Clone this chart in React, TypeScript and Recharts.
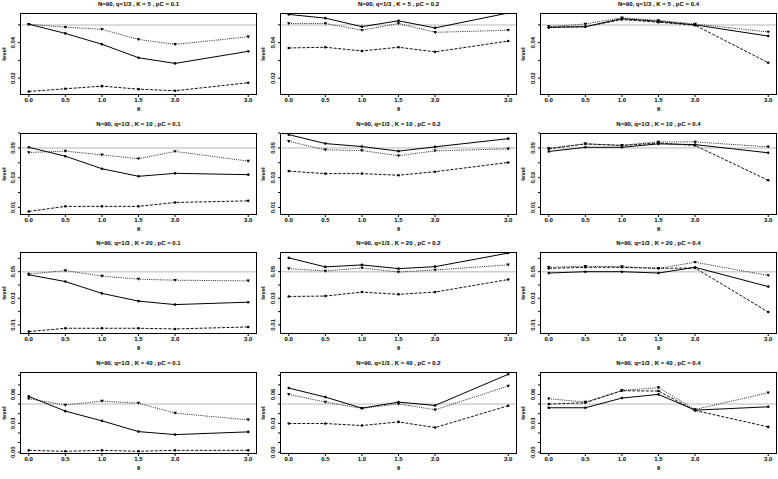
import { LineChart, Line, XAxis, YAxis, ReferenceLine } from "recharts"

const FONT = '"Liberation Sans", Arial, Helvetica, sans-serif'

// theta values on the x axis
const theta = [0, 0.5, 1, 1.5, 2, 3]
const kValues = [5, 10, 20, 40]
const pcValues = [0.1, 0.2, 0.4]

// level per panel: [solid, dotted, dashed]
const k5p1 = [
  [0.0504, 0.0452, 0.0391, 0.0315, 0.0283, 0.0351],
  [0.0504, 0.0487, 0.0475, 0.0418, 0.039, 0.0433],
  [0.0125, 0.014, 0.0155, 0.0138, 0.0129, 0.0174],
]
const k5p2 = [
  [0.0559, 0.0538, 0.049, 0.0523, 0.0483, 0.0567],
  [0.0508, 0.0508, 0.047, 0.0508, 0.0458, 0.047],
  [0.037, 0.0374, 0.0353, 0.0374, 0.0348, 0.0409],
]
const k5p4 = [
  [0.0487, 0.049, 0.0535, 0.052, 0.05, 0.0437],
  [0.049, 0.0505, 0.054, 0.0525, 0.0505, 0.046],
  [0.0485, 0.049, 0.053, 0.0515, 0.0498, 0.0287],
]
const k10p1 = [
  [0.0504, 0.0444, 0.036, 0.0309, 0.0329, 0.032],
  [0.0469, 0.0478, 0.0453, 0.0427, 0.0476, 0.0411],
  [0.0073, 0.0107, 0.0107, 0.0107, 0.0133, 0.0144],
]
const k10p2 = [
  [0.0589, 0.0529, 0.0509, 0.0478, 0.0507, 0.0562],
  [0.0544, 0.0487, 0.0482, 0.0447, 0.048, 0.0493],
  [0.0344, 0.0327, 0.0327, 0.0316, 0.034, 0.0402],
]
const k10p4 = [
  [0.0476, 0.0504, 0.0504, 0.0527, 0.0522, 0.0467],
  [0.0498, 0.0527, 0.0518, 0.054, 0.054, 0.0507],
  [0.0493, 0.0527, 0.0516, 0.0533, 0.0516, 0.0282],
]
const k20p1 = [
  [0.0477, 0.0426, 0.0337, 0.0279, 0.0253, 0.0271],
  [0.0482, 0.0508, 0.0467, 0.0444, 0.0436, 0.0431],
  [0.005, 0.0075, 0.0075, 0.0075, 0.007, 0.0085],
]
const k20p2 = [
  [0.0604, 0.0536, 0.0551, 0.0523, 0.0538, 0.064],
  [0.0523, 0.0505, 0.0528, 0.0497, 0.0513, 0.0551],
  [0.0314, 0.0317, 0.0347, 0.033, 0.0347, 0.0441],
]
const k20p4 = [
  [0.049, 0.05, 0.05, 0.049, 0.0533, 0.0388],
  [0.0533, 0.0541, 0.0538, 0.0525, 0.0571, 0.0472],
  [0.0525, 0.0533, 0.0533, 0.0525, 0.0528, 0.0197],
]
const k40p1 = [
  [0.058, 0.0427, 0.0326, 0.0214, 0.0183, 0.0211],
  [0.0556, 0.049, 0.0531, 0.051, 0.0406, 0.0336],
  [0.0019, 0.0009, 0.0019, 0.0009, 0.0019, 0.0019],
]
const k40p2 = [
  [0.0667, 0.0573, 0.0458, 0.0521, 0.0486, 0.081],
  [0.0601, 0.0521, 0.0455, 0.0503, 0.0441, 0.0688],
  [0.0298, 0.0298, 0.0277, 0.0315, 0.0256, 0.0483],
]
const k40p4 = [
  [0.0462, 0.0462, 0.0563, 0.0601, 0.0437, 0.0472],
  [0.0556, 0.0521, 0.0643, 0.0671, 0.0444, 0.0618],
  [0.05, 0.0514, 0.0639, 0.0636, 0.0434, 0.0263],
]

const panels = [
  [k5p1, k5p2, k5p4],
  [k10p1, k10p2, k10p4],
  [k20p1, k20p2, k20p4],
  [k40p1, k40p2, k40p4],
]

// y axis per row
const yDomains = [
  [0.0105, 0.0567],
  [0.0049, 0.06],
  [0.0032, 0.0648],
  [-0.0019, 0.0834],
]
const yTicks = [
  [0.02, 0.03, 0.04, 0.05],
  [0.01, 0.02, 0.03, 0.04, 0.05, 0.06],
  [0.01, 0.02, 0.03, 0.04, 0.05, 0.06],
  [0, 0.01, 0.02, 0.03, 0.04, 0.05, 0.06, 0.07, 0.08],
]
const yLabeled = [
  [0.02, 0.04],
  [0.01, 0.03, 0.05],
  [0.01, 0.03, 0.05],
  [0, 0.03, 0.06],
]

const colX = [0, 259, 519]
const rowY = [0, 120, 239, 359]
const boxLeft = [20, 21, 21]
const BOX_W = 237
const BOX_TOP = 13
const BOX_H = 82
const PANEL_W = 260
const PANEL_H = 120

function YTick(props: any) {
  const { y, payload, labeled, boxX } = props
  const v = payload?.value
  if (v == null || !labeled.some((l: number) => Math.abs(l - v) < 1e-9)) return <g />
  return (
    <text
      transform={`translate(${boxX - 5},${y}) rotate(-90)`}
      textAnchor="middle"
      fontSize={6}
      fontWeight="bold"
      fontFamily={FONT}
      fill="#000"
    >
      {v.toFixed(2)}
    </text>
  )
}

const dotCircle = (props: any) => {
  const { cx, cy, index } = props
  return <circle key={`c-${index}`} cx={cx} cy={cy} r={1.3} fill="#000" />
}

const dotTriangle = (props: any) => {
  const { cx, cy, index } = props
  return (
    <polygon
      key={`t-${index}`}
      points={`${cx - 1.8},${cy - 1.3} ${cx + 1.8},${cy - 1.3} ${cx},${cy + 1.6}`}
      fill="#000"
    />
  )
}

function Panel({ row, col }: { row: number; col: number }) {
  const series = panels[row][col]
  const data = theta.map((t, i) => ({
    theta: t,
    solid: series[0][i],
    dotted: series[1][i],
    dashed: series[2][i],
  }))
  const left = boxLeft[col]
  const title = `N=90, q=1/3 , K = ${kValues[row]} , pC = ${pcValues[col]}`

  return (
    <div
      style={{
        position: "absolute",
        left: colX[col],
        top: rowY[row],
        width: PANEL_W,
        height: PANEL_H,
        fontFamily: FONT,
      }}
    >
      <div
        style={{
          position: "absolute",
          left: left,
          top: 1,
          width: BOX_W,
          textAlign: "center",
          fontSize: 6,
          lineHeight: "6px",
          fontWeight: "bold",
          whiteSpace: "nowrap",
        }}
      >
        {title}
      </div>
      <LineChart
        width={PANEL_W}
        height={PANEL_H}
        data={data}
        margin={{ top: BOX_TOP, right: PANEL_W - left - BOX_W, bottom: 0, left: 0 }}
      >
        <XAxis
          dataKey="theta"
          type="number"
          domain={[-0.12, 3.12]}
          allowDataOverflow
          ticks={theta}
          tickFormatter={(v: number) => v.toFixed(1)}
          height={PANEL_H - BOX_TOP - BOX_H}
          tickSize={2}
          tickMargin={1}
          stroke="#000"
          axisLine={false}
          tick={{ fontSize: 6, fill: "#000", fontWeight: "bold", fontFamily: FONT }}
          label={{ value: "θ", position: "insideBottom", offset: 9, fontSize: 6, fill: "#000", fontWeight: "bold" }}
        />
        <YAxis
          type="number"
          domain={yDomains[row]}
          allowDataOverflow
          ticks={yTicks[row]}
          interval={0}
          width={left}
          tickSize={2}
          tickMargin={2}
          stroke="#000"
          axisLine={false}
          tick={<YTick labeled={yLabeled[row]} boxX={left} />}
          label={{
            content: (p: any) => {
              const vb = p.viewBox
              return (
                <text
                  transform={`translate(${vb.x + 6},${vb.y + vb.height / 2}) rotate(-90)`}
                  textAnchor="middle"
                  fontSize={6}
                  fontWeight="bold"
                  fontFamily={FONT}
                  fill="#000"
                >
                  level
                </text>
              )
            },
          }}
        />
        <ReferenceLine y={0.05} stroke="#cfcfcf" strokeWidth={1.5} />
        <Line
          dataKey="solid"
          type="linear"
          stroke="#000"
          strokeWidth={1}
          dot={dotCircle}
          isAnimationActive={false}
        />
        <Line
          dataKey="dotted"
          type="linear"
          stroke="#222"
          strokeWidth={1}
          strokeDasharray="1 1.2"
          dot={dotTriangle}
          isAnimationActive={false}
        />
        <Line
          dataKey="dashed"
          type="linear"
          stroke="#111"
          strokeWidth={1}
          strokeDasharray="3 1.5"
          dot={dotCircle}
          isAnimationActive={false}
        />
      </LineChart>
      <div
        style={{
          position: "absolute",
          left: left,
          top: BOX_TOP,
          width: BOX_W,
          height: BOX_H,
          border: "1px solid #000",
          boxSizing: "border-box",
          pointerEvents: "none",
        }}
      />
    </div>
  )
}

export default function App() {
  return (
    <div
      style={{
        position: "absolute",
        left: 0,
        top: 0,
        width: 778,
        height: 479,
        background: "#fff",
        overflow: "hidden",
      }}
    >
      {panels.map((r, ri) => r.map((_, ci) => <Panel key={`${ri}-${ci}`} row={ri} col={ci} />))}
    </div>
  )
}
